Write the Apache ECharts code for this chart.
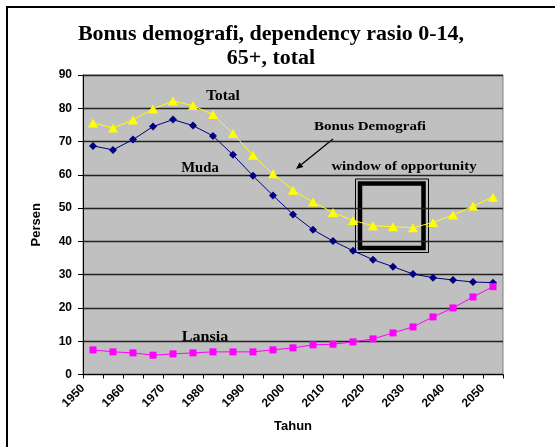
<!DOCTYPE html>
<html>
<head>
<meta charset="utf-8">
<script src="https://cdn.jsdelivr.net/npm/echarts@6/dist/echarts.min.js"></script>
<style>html,body{margin:0;padding:0;background:#fff;}#c{width:555px;height:447px;}</style>
</head>
<body>
<div id="c"></div>
<script>
var categories = ['1950','1955','1960','1965','1970','1975','1980','1985','1990','1995','2000','2005','2010','2015','2020','2025','2030','2035','2040','2045','2050'];
var total  = [75.6,74.1,76.5,79.8,82.2,80.8,78.1,72.4,65.9,60.3,55.4,51.8,48.7,46.3,44.7,44.4,44.1,45.7,47.9,50.6,53.3];
var muda   = [68.7,67.5,70.6,74.5,76.6,74.8,71.7,66.0,59.7,53.8,48.1,43.5,40.1,37.2,34.5,32.4,30.2,29.1,28.4,27.8,27.6];
var lansia = [7.4,6.8,6.5,5.8,6.2,6.5,6.8,6.8,6.8,7.4,8.0,8.9,9.1,9.8,10.7,12.5,14.3,17.3,20.0,23.3,26.4];
var xTickLabels = [1950,1960,1970,1980,1990,2000,2010,2020,2030,2040,2050];

var chart = echarts.init(document.getElementById('c'), null, {renderer:'canvas'});
var serif = '"Liberation Serif","Times New Roman",serif';
var sans = '"Liberation Sans",Arial,sans-serif';

// arrow geometry (annotation, pixels)
var a0 = [333,139], a1 = [296,169];
var dx = a1[0]-a0[0], dy = a1[1]-a0[1], L = Math.sqrt(dx*dx+dy*dy), ux = dx/L, uy = dy/L;
var ah = 7, aw = 3;
var bx = a1[0]-ux*ah, by = a1[1]-uy*ah;
var arrowHead = [[a1[0],a1[1]],[bx-uy*aw,by+ux*aw],[bx+uy*aw,by-ux*aw]];

function label(txt, x, y, size, sx) {
  return {type:'text', x:x, y:y, scaleX:sx||1.1,
    style:{text:txt, font:'bold '+size+'px '+serif, fill:'#000', align:'center', verticalAlign:'middle'}};
}

var option = {
  animation:false,
  backgroundColor:'#fff',
  grid:{left:83,right:52,top:75,bottom:72.5,show:true,backgroundColor:'#C0C0C0',borderColor:'#808080',borderWidth:1},
  xAxis:[{
    type:'category', data:categories, boundaryGap:true,
    axisLine:{show:true,lineStyle:{color:'#000',width:1}},
    axisTick:{show:true,length:4,interval:0,lineStyle:{color:'#000'}},
    axisLabel:{show:false},
    splitLine:{show:false}
  },{
    type:'value', min:1950, max:2055, interval:10, position:'bottom',
    axisLine:{show:false}, axisTick:{show:false}, splitLine:{show:false},
    axisLabel:{rotate:45, margin:12, fontFamily:sans, fontWeight:'bold', fontSize:12, color:'#000',
      showMaxLabel:false,
      formatter:function(v){ return xTickLabels.indexOf(v) >= 0 ? String(v) : ''; }},
    name:'Tahun', nameLocation:'middle', nameGap:45,
    nameTextStyle:{fontFamily:sans, fontWeight:'bold', fontSize:13, color:'#000'}
  }],
  yAxis:{
    type:'value', min:0, max:90, interval:10,
    axisLine:{show:true,lineStyle:{color:'#000',width:1}},
    axisTick:{show:true,length:5,lineStyle:{color:'#000'}},
    axisLabel:{margin:11, fontFamily:sans, fontWeight:'bold', fontSize:12, color:'#000'},
    splitLine:{show:true,lineStyle:{color:'#222',width:1.3}},
    name:'Persen', nameLocation:'middle', nameGap:40, nameRotate:90,
    nameTextStyle:{fontFamily:sans, fontWeight:'bold', fontSize:13, color:'#000'}
  },
  series:[
    {name:'Total',type:'line',xAxisIndex:0,data:total,symbol:'triangle',symbolSize:[10,9],
      lineStyle:{color:'#FFFF00',width:1},itemStyle:{color:'#FFFF00'}},
    {name:'Muda',type:'line',xAxisIndex:0,data:muda,symbol:'diamond',symbolSize:[8,8],
      lineStyle:{color:'#000080',width:1},itemStyle:{color:'#000080'}},
    {name:'Lansia',type:'line',xAxisIndex:0,data:lansia,symbol:'rect',symbolSize:7,
      lineStyle:{color:'#FF00FF',width:1},itemStyle:{color:'#FF00FF'}}
  ],
  graphic:[
    {type:'rect',shape:{x:7,y:7,width:600,height:500},style:{fill:null,stroke:'#000',lineWidth:2},silent:true},
    {type:'text',x:271,y:23,scaleX:1.1,style:{text:'Bonus demografi, dependency rasio 0-14,\n65+, total',font:'bold 20px '+serif,fill:'#000',align:'center',verticalAlign:'top',lineHeight:24}},
    label('Total',223,96,14,1.1),
    label('Muda',200,168,14,1.05),
    label('Lansia',205,337,14,1.15),
    label('Bonus Demografi',370,127,12,1.25),
    label('window of opportunity',404,167,13.5,1.1),
    {type:'line',shape:{x1:a0[0],y1:a0[1],x2:bx,y2:by},style:{stroke:'#000',lineWidth:1.3}},
    {type:'polygon',shape:{points:arrowHead},style:{fill:'#000'}},
    {type:'rect',shape:{x:355.5,y:179,width:73,height:73.5},style:{fill:null,stroke:'#000',lineWidth:1}},
    {type:'rect',shape:{x:360,y:183.5,width:63.5,height:64.5},style:{fill:null,stroke:'#000',lineWidth:4.5}}
  ]
};
chart.setOption(option);
</script>
</body>
</html>
